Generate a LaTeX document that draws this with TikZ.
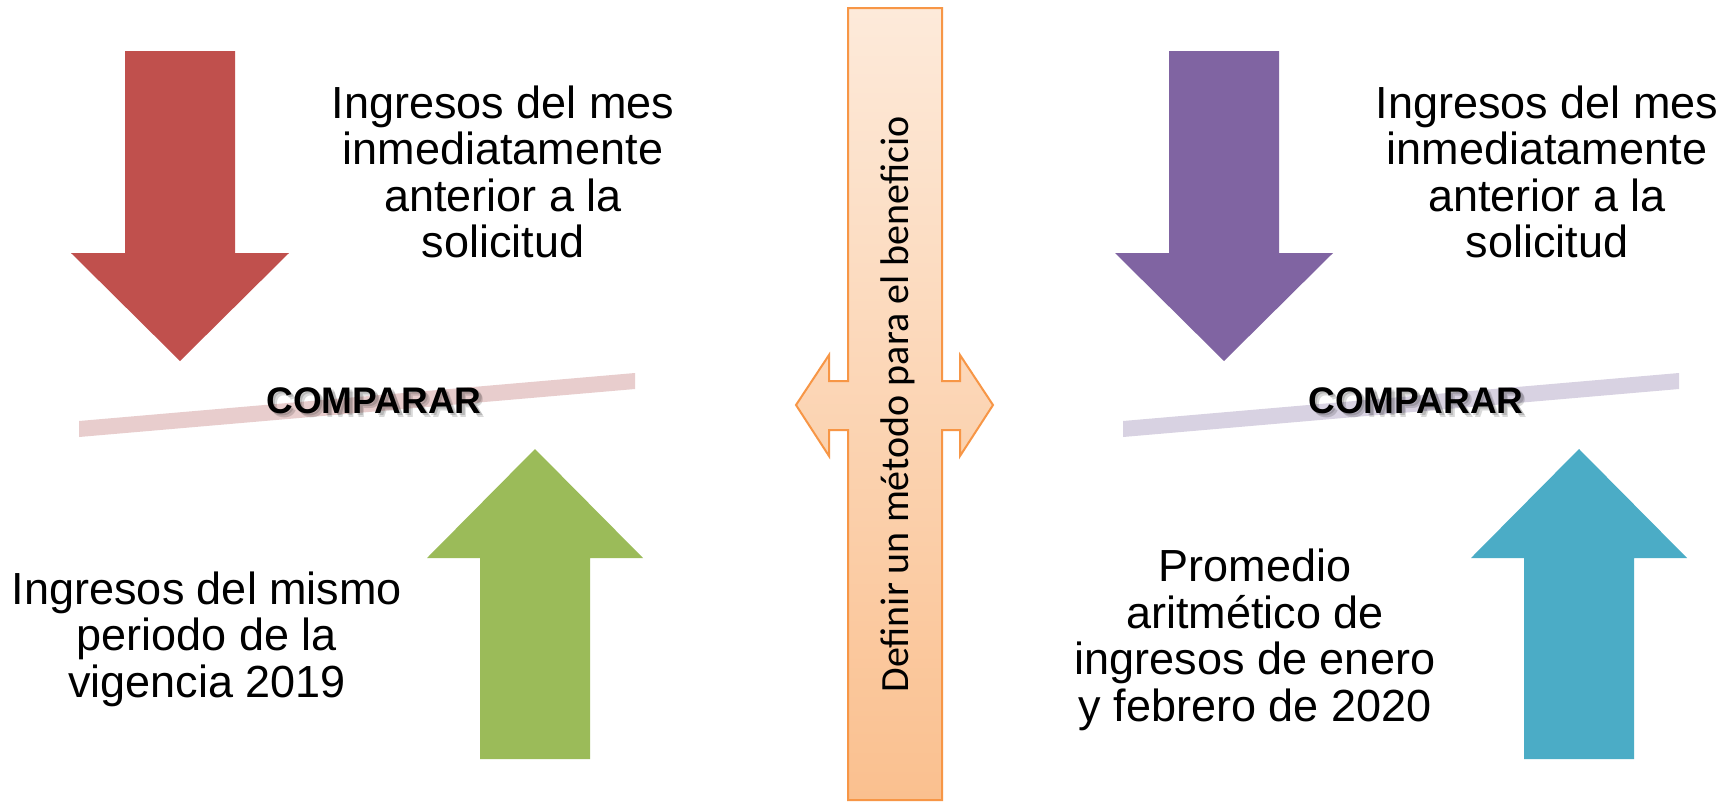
\documentclass[tikz,border=0pt]{standalone}
\usepackage{fontspec}
\setmainfont{Liberation Sans}
\newfontfamily\calib{Carlito}
\definecolor{cRed}{HTML}{C0504D}
\definecolor{cGreen}{HTML}{9BBB59}
\definecolor{cPurple}{HTML}{8064A2}
\definecolor{cTeal}{HTML}{4BACC6}
\definecolor{cRedBar}{HTML}{E8CDCD}
\definecolor{cPurBar}{HTML}{D8D2E2}
\definecolor{cOrange}{HTML}{F79646}
\definecolor{cTop}{HTML}{FDEADA}
\definecolor{cBot}{HTML}{FAC08F}
\tikzset{
  bodytext/.style={font=\fontsize{45}{46.5}\selectfont, align=center, inner sep=0pt, text=black},
  cmp/.style={font=\fontsize{37}{40}\selectfont\bfseries, inner sep=0pt, anchor=base},
  cmpshadow/.style={cmp, text=black, opacity=0.15},
}
\begin{document}
\begin{tikzpicture}[x=1pt,y=-1pt]
\useasboundingbox[fill=white] (0,0) rectangle (1730,807);

% bars
\fill[cRedBar] (79,421) -- (79,437) -- (635,389) -- (635,373) -- cycle;
\fill[cPurBar] (1123,421) -- (1123,437) -- (1679,389) -- (1679,373) -- cycle;

% left arrows
\fill[cRed] (125,51) -- (235,51) -- (235,253) -- (289,253) -- (180,361) -- (71,253) -- (125,253) -- cycle;
\fill[cGreen] (480,759) -- (590,759) -- (590,558) -- (643,558) -- (535,449) -- (427,558) -- (480,558) -- cycle;
% right arrows
\fill[cPurple] (1169,51) -- (1279,51) -- (1279,253) -- (1333,253) -- (1224,361) -- (1115,253) -- (1169,253) -- cycle;
\fill[cTeal] (1524,759) -- (1634,759) -- (1634,558) -- (1687,558) -- (1579,449) -- (1471,558) -- (1524,558) -- cycle;

% central shape
\path[draw=cOrange, line width=2pt, top color=cTop, bottom color=cBot]
  (848,8) -- (942,8) -- (942,381) -- (960,381) -- (960,355) -- (993,405)
  -- (960,456) -- (960,430) -- (942,430) -- (942,800) -- (848,800)
  -- (848,430) -- (829,430) -- (829,456) -- (796,405) -- (829,355)
  -- (829,381) -- (848,381) -- cycle;
\node[font=\calib\fontsize{40}{44}\selectfont, rotate=90, anchor=base, inner sep=0pt] (central) at (908,404.5) {Definir un método para el beneficio};

% COMPARAR labels with soft shadow
\node[cmpshadow] (cmpLs1) at (376.5,415.5) {COMPARAR};
\node[cmpshadow] (cmpLs2) at (378,417) {COMPARAR};
\node[cmp] (cmpL) at (374,413) {COMPARAR};
\node[cmpshadow] (cmpRs1) at (1418.5,415.5) {COMPARAR};
\node[cmpshadow] (cmpRs2) at (1420,417) {COMPARAR};
\node[cmp] (cmpR) at (1416,413) {COMPARAR};

% texts
\node[bodytext] (tl) at (503,172) {Ingresos del mes\\inmediatamente\\anterior a la\\solicitud};
\node[bodytext] (tr) at (1547,172) {Ingresos del mes\\inmediatamente\\anterior a la\\solicitud};
\node[bodytext] (bl) at (207,639) {Ingresos del mismo\\periodo de la\\vigencia 2019};
\node[bodytext] (br) at (1255,640) {Promedio\\aritmético de\\ingresos de enero\\y febrero de 2020};
\end{tikzpicture}
\end{document}
